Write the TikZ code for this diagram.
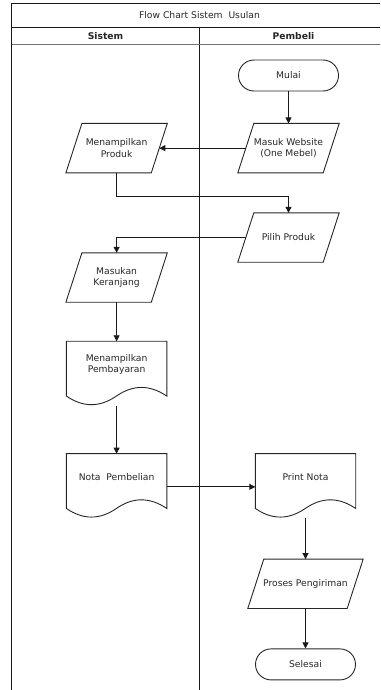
\documentclass[tikz,border=0pt]{standalone}
\usepackage{fontspec}
\setmainfont{DejaVu Sans}
\usepackage{tikz}
\usetikzlibrary{arrows.meta, positioning}

% outline of a data (parallelogram) box, drawn round its body node
\newcommand{\paraline}[1]{%
  \draw[shapeline] ([xshift=8pt]#1.north west) -- ([xshift=8pt]#1.north east)
    -- ([xshift=-8pt]#1.south east) -- ([xshift=-8pt]#1.south west) -- cycle;}
% outline of a document box with its wavy bottom
\newcommand{\docline}[1]{%
  \draw[shapeline] (#1.north west) -- (#1.north east) -- ([yshift=-8.4pt]#1.south east)
    .. controls ([xshift=83.3pt,yshift=3.1pt]#1.south west) and ([xshift=66.7pt,yshift=3.1pt]#1.south west) .. ([xshift=50pt,yshift=-8.4pt]#1.south west)
    .. controls ([xshift=33.3pt,yshift=-19.9pt]#1.south west) and ([xshift=16.7pt,yshift=-19.9pt]#1.south west) .. ([yshift=-8.4pt]#1.south west)
    -- cycle;}

\begin{document}
\begin{tikzpicture}[
    x=1pt, y=-1pt,
    font=\fontsize{9.2}{11.6}\selectfont,
    every node/.style={text=black!85},
    shapeline/.style={draw=black!85, line width=0.9pt},
    term/.style={rectangle, rounded corners=15.5pt, draw=black!85, line width=0.9pt, align=center, minimum width=100pt, minimum height=31pt, inner sep=0pt},
    para/.style={rectangle, align=center, minimum width=85pt, minimum height=49pt, inner sep=0pt},
    doc/.style={rectangle, align=center, minimum width=100pt, minimum height=46pt, inner sep=0pt},
    arrow/.style={-{Triangle[length=6pt, width=6pt]}, line width=0.9pt, draw=black!90},
    lane/.style={line width=0.9pt, draw=black!90}
]
\clip[use as bounding box] (0,0) rectangle (380,690);

% swimlanes
\draw[lane] (11.5,700) -- (11.5,3) -- (392,3);
\draw[lane] (11.5,27) -- (392,27);
\draw[lane] (199.5,27) -- (199.5,700);
\draw[black!55, line width=1.4pt] (11.5,44.8) -- (392,44.8);

\node (judul) at (199.5,15.5) {Flow Chart Sistem~ Usulan};
\node[font=\fontsize{9.2}{11.6}\selectfont\bfseries] (sistem) at (105.5,36) {Sistem};
\node[font=\fontsize{9.2}{11.6}\selectfont\bfseries] (pembeli) at (293.5,36) {Pembeli};

% pembeli / sistem steps
\node[term] (mulai) at (288.5,75.5) {Mulai};
\node[para, below=32pt of mulai] (web) {Masuk Website\\(One Mebel)};
\node[para, left=86.5pt of web] (produk) {Menampilkan\\Produk};
\node[para, below=40pt of web] (pilih) {Pilih Produk};
\node[para, below=80pt of produk] (keranjang) {Masukan\\Keranjang};
\node[doc, below=39pt of keranjang] (bayar) {Menampilkan\\Pembayaran};
\node[doc, below=66pt of bayar] (nota) {Nota~ Pembelian};
\node[doc, right=88.5pt of nota] (print) {Print Nota};
\node[para, minimum width=99pt, below=59pt of print] (kirim) {Proses Pengiriman};
\node[term, below=40pt of kirim] (selesai) {Selesai};

\paraline{web}
\paraline{produk}
\paraline{pilih}
\paraline{keranjang}
\paraline{kirim}
\docline{bayar}
\docline{nota}
\docline{print}

\draw[arrow] (mulai) -- (web);
\draw[arrow] (web) -- (produk);
\draw[arrow] (produk.south) -- ++(0,24) -| (pilih.north);
\draw[arrow] (pilih.west) -| (keranjang.north);
\draw[arrow] (keranjang) -- (bayar);
\draw[arrow] ([yshift=-18pt]bayar.south) -- (nota);
\draw[arrow] ([yshift=-10pt]nota.east) -- ([yshift=-10pt]print.west);
\draw[arrow] ([yshift=-18pt]print.south) -- (kirim);
\draw[arrow] (kirim) -- (selesai);

\end{tikzpicture}
\end{document}
